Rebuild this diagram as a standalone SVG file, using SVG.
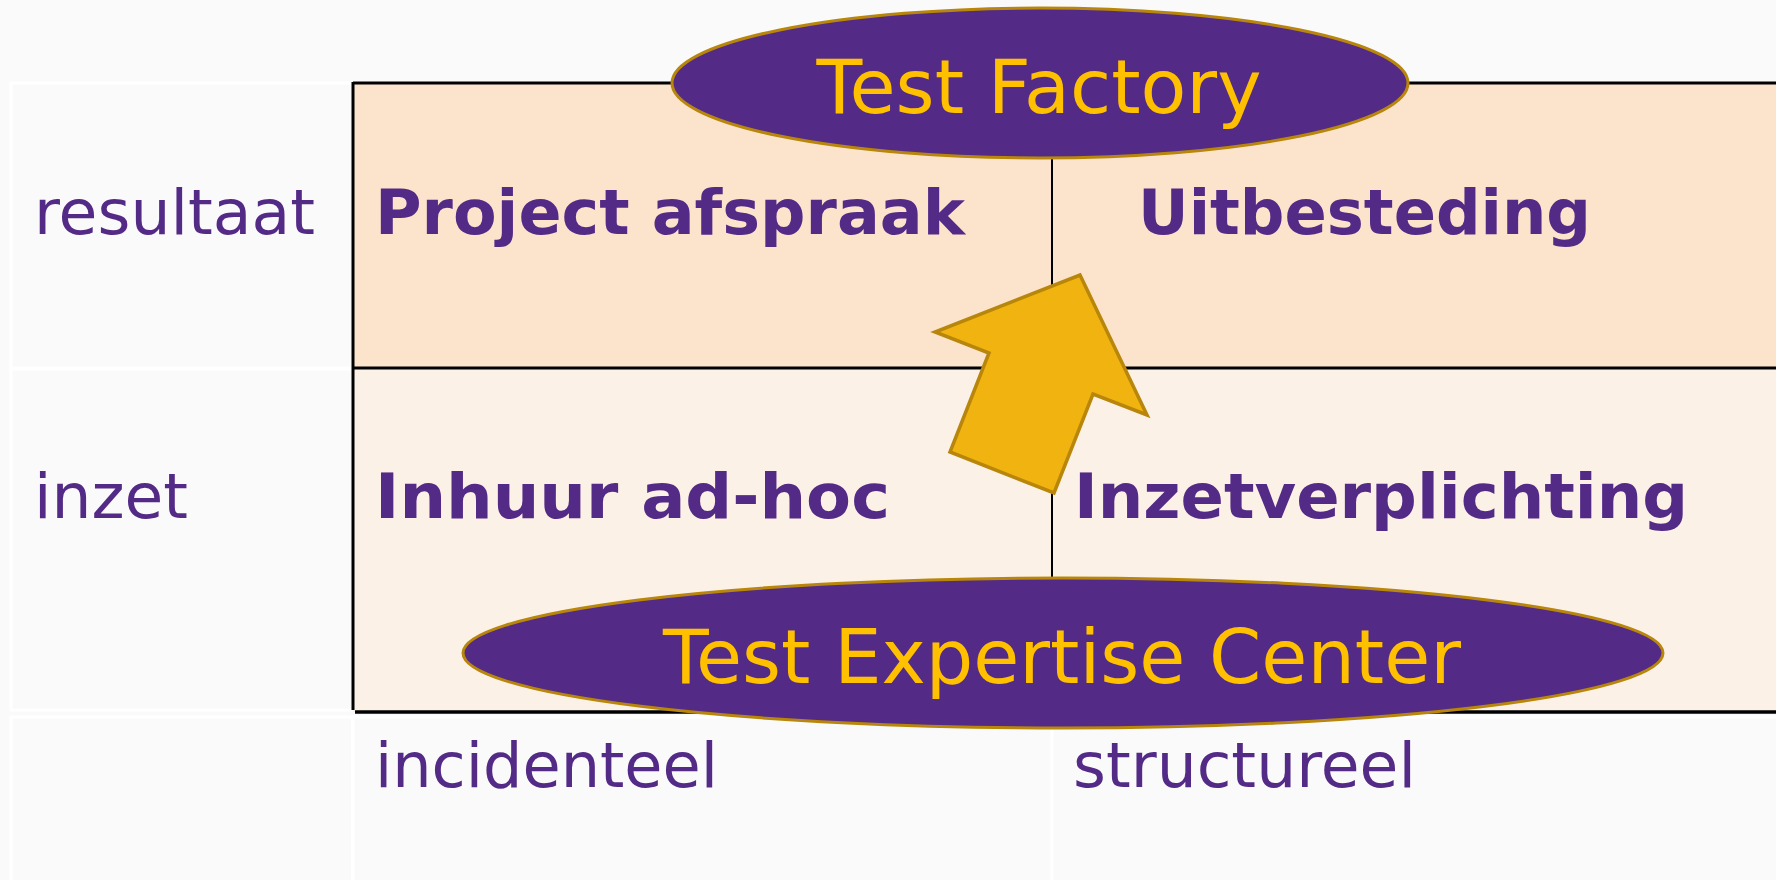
<svg xmlns="http://www.w3.org/2000/svg" width="1776" height="880" viewBox="0 0 1776 880">
<style>
.lbl{font-family:"DejaVu Sans",Verdana,sans-serif;font-size:63px;fill:#542A87}
.b{font-weight:bold}
.oval{fill:#542A87;stroke:#B8860B;stroke-width:3}
.ot{font-family:"DejaVu Sans",Verdana,sans-serif;font-size:74px;fill:#FFC000;text-anchor:middle}
.wc{fill:#FAFAFA;stroke:#FFFFFF;stroke-width:3}
.bl{stroke:#000;fill:none}
</style>
<rect width="1776" height="880" fill="#FAFAFA"/>
<g id="grid">
<rect class="wc" x="11" y="83" width="342" height="285"/>
<rect class="wc" x="11" y="369" width="342" height="341"/>
<rect class="wc" x="11" y="717" width="342" height="170"/>
<rect class="wc" x="353" y="717" width="699" height="170"/>
<rect class="wc" x="1052" y="717" width="730" height="170"/>
<rect x="353" y="83" width="1430" height="285" fill="#FCE4CC"/>
<rect x="353" y="368" width="1430" height="344" fill="#FCF1E6"/>
<line class="bl" x1="353" y1="83" x2="1776" y2="83" stroke-width="3"/>
<line class="bl" x1="353" y1="368" x2="1776" y2="368" stroke-width="3"/>
<line class="bl" x1="355" y1="712" x2="1776" y2="712" stroke-width="3.5"/>
<line class="bl" x1="353" y1="82" x2="353" y2="710" stroke-width="3"/>
<line class="bl" x1="1052" y1="83" x2="1052" y2="712" stroke-width="2"/>
</g>
<g id="labels">
<text class="lbl" x="34" y="234" textLength="281" lengthAdjust="spacingAndGlyphs">resultaat</text>
<text class="lbl" x="34" y="518">inzet</text>
<text class="lbl" x="375" y="787" textLength="343" lengthAdjust="spacingAndGlyphs">incidenteel</text>
<text class="lbl" x="1073" y="787" textLength="343" lengthAdjust="spacingAndGlyphs">structureel</text>
</g>
<g id="cell-project"><text class="lbl b" x="375" y="234" textLength="590" lengthAdjust="spacingAndGlyphs">Project afspraak</text></g>
<g id="cell-uitbesteding"><text class="lbl b" x="1138" y="234" textLength="453" lengthAdjust="spacingAndGlyphs">Uitbesteding</text></g>
<g id="cell-inhuur"><text class="lbl b" x="375" y="518" textLength="515" lengthAdjust="spacingAndGlyphs">Inhuur ad-hoc</text></g>
<g id="cell-inzet"><text class="lbl b" x="1074" y="518" textLength="614" lengthAdjust="spacingAndGlyphs">Inzetverplichting</text></g>
<g id="connectors">
<polygon points="1080,275 1147,415 1093,394 1054,493 950,452 989,353 935,332" fill="#F0B310" stroke="#B8860B" stroke-width="3.5" stroke-linejoin="miter"/>
</g>
<g id="test-factory">
<ellipse class="oval" cx="1040" cy="83" rx="368" ry="75"/>
<text class="ot" x="1039" y="113" textLength="445" lengthAdjust="spacingAndGlyphs">Test Factory</text>
</g>
<g id="test-expertise-center">
<ellipse class="oval" cx="1063" cy="653" rx="600" ry="75"/>
<text class="ot" x="1062" y="683" textLength="798" lengthAdjust="spacingAndGlyphs">Test Expertise Center</text>
</g>
</svg>
